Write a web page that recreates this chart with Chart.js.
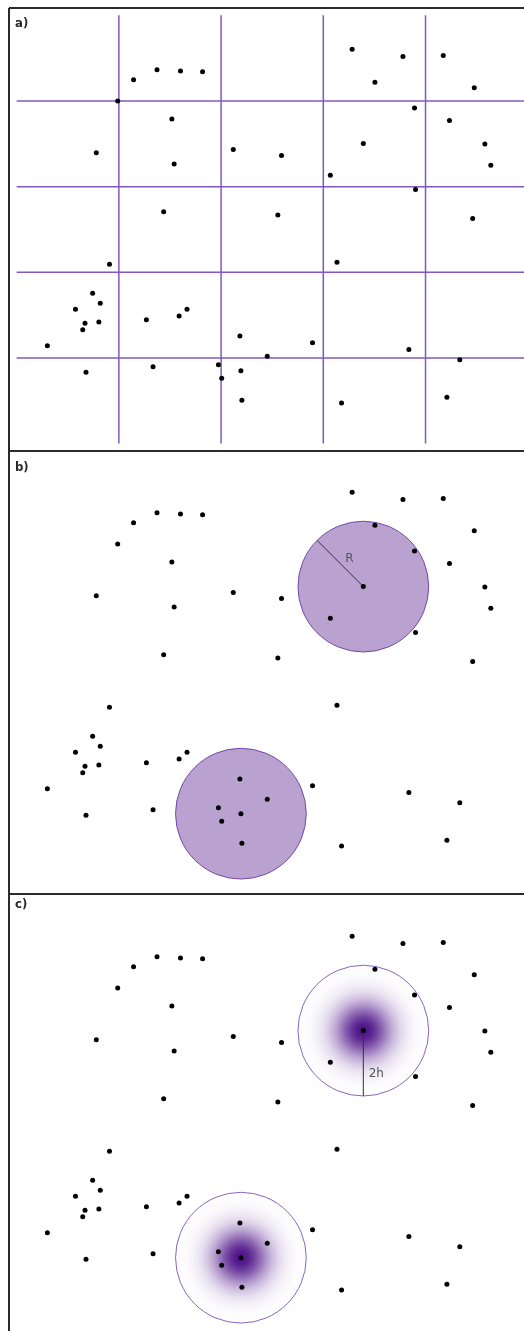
<!DOCTYPE html>
<html><head><meta charset="utf-8">
<script src="https://cdn.jsdelivr.net/npm/chart.js@4/dist/chart.umd.min.js"></script>
<style>
html,body{margin:0;padding:0;background:#fff;width:524px;height:1331px;overflow:hidden;position:relative}
canvas{position:absolute;left:0}
.hl{position:absolute;left:9px;width:515px;height:2px;background:#2b2b2b}
.vl{position:absolute;left:8px;top:8px;width:2px;height:1323px;background:#2b2b2b}
.lbl{position:absolute;left:15px;font:bold 13px/13px 'DejaVu Sans Condensed','DejaVu Sans',sans-serif;color:#2a2a2a}
.ann{position:absolute;font:12px/12px 'DejaVu Sans',sans-serif;color:#555;transform:translate(-50%,-50%);white-space:nowrap}
</style></head>
<body>
<canvas id="pa" width="524" height="451" style="top:0px"></canvas>
<canvas id="pb" width="524" height="451" style="top:443px"></canvas>
<canvas id="pc" width="524" height="451" style="top:887px"></canvas>
<div class="vl"></div>
<div class="hl" style="top:7px"></div>
<div class="hl" style="top:450px"></div>
<div class="hl" style="top:893px"></div>
<div class="lbl" style="top:16px">a)</div>
<div class="lbl" style="top:460px">b)</div>
<div class="lbl" style="top:897px">c)</div>
<div class="ann" id="annR">R</div>
<div class="ann" id="ann2h">2h</div>
<script>
// Event locations (window units, origin at window's top-left)
const pointX = [118.0,141.7,165.4,187.7,102.0,156.7,80.4,159.0,218.7,148.4,
  338.7,390.0,361.7,430.7,462.0,401.7,437.0,267.4,350.0,472.7,
  478.7,316.7,402.7,263.7,460.4,93.7,76.7,84.4,59.4,69.0,
  66.7,83.0,31.0,70.0,131.0,164.0,172.0,137.7,225.4,203.7,
  207.0,226.4,227.4,323.4,298.7,253.0,396.0,447.4,328.0,434.4];
const pointY = [65.0,55.0,56.3,57.0,86.7,104.7,139.0,150.3,135.7,198.7,
  34.3,41.7,67.7,40.7,73.3,93.7,106.3,141.7,129.7,130.0,
  151.7,161.7,176.0,202.0,205.3,251.7,281.0,291.0,297.3,311.3,
  318.0,310.0,334.0,361.0,307.7,304.0,297.3,355.3,324.3,353.3,
  367.0,359.3,389.3,249.7,331.0,344.7,338.0,348.3,392.0,386.3];
// Study window and quadrat breaks
const windowW = 516, windowH = 433;
const quadratXBreaks = [103.2,206.4,309.6,412.8];
const quadratYBreaks = [86.6,173.2,259.8,346.4];
// Search circles / kernel centres
const circleX = [350.0,226.4];
const circleY = [129.7,359.3];
const radius = 66;

function decoPlugin(mode){
  return {
    id:'deco',
    beforeDatasetsDraw(chart){
      const ctx = chart.ctx, xs = chart.scales.x, ys = chart.scales.y;
      ctx.save();
      if(mode==='a'){
        ctx.strokeStyle = '#8257c0'; ctx.lineWidth = 1.5;
        quadratXBreaks.forEach(v=>{
          const p = xs.getPixelForValue(v);
          ctx.beginPath(); ctx.moveTo(p, ys.getPixelForValue(0)); ctx.lineTo(p, ys.getPixelForValue(windowH)); ctx.stroke();
        });
        quadratYBreaks.forEach(v=>{
          const p = ys.getPixelForValue(v);
          ctx.beginPath(); ctx.moveTo(xs.getPixelForValue(0), p); ctx.lineTo(xs.getPixelForValue(windowW), p); ctx.stroke();
        });
      } else {
        const rp = xs.getPixelForValue(radius) - xs.getPixelForValue(0);
        circleX.forEach((cx,i)=>{
          const px = xs.getPixelForValue(cx), py = ys.getPixelForValue(circleY[i]);
          if(mode==='b'){
            ctx.beginPath(); ctx.arc(px,py,rp,0,Math.PI*2);
            ctx.fillStyle = '#b9a2d0'; ctx.fill();
            ctx.strokeStyle = '#7347ab'; ctx.lineWidth = 1; ctx.stroke();
          } else {
            ctx.beginPath(); ctx.arc(px,py,rp,0,Math.PI*2);
            ctx.fillStyle = '#ffffff'; ctx.fill();
            const g = ctx.createRadialGradient(px,py,0,px,py,rp);
            const sigma = 20/rp;
            for(let k=0;k<=20;k++){
              const t = k/20;
              const a = Math.exp(-(t*t)/(2*sigma*sigma));
              g.addColorStop(t, 'rgba(78,18,136,'+a.toFixed(4)+')');
            }
            ctx.fillStyle = g; ctx.fill();
            ctx.strokeStyle = '#8a62c0'; ctx.lineWidth = 1; ctx.stroke();
          }
          if(i===0){
            ctx.strokeStyle = '#333'; ctx.lineWidth = 1;
            ctx.beginPath(); ctx.moveTo(px,py);
            const canvasTop = parseFloat(chart.canvas.style.top);
            if(mode==='b'){
              const d = rp/Math.SQRT2;
              ctx.lineTo(px-d, py-d); ctx.stroke();
              const el = document.getElementById('annR');
              el.style.left = (px-14)+'px'; el.style.top = (canvasTop+py-29)+'px';
            } else {
              ctx.lineTo(px, py+rp); ctx.stroke();
              const el = document.getElementById('ann2h');
              el.style.left = (px+13)+'px'; el.style.top = (canvasTop+py+42)+'px';
            }
          }
        });
      }
      ctx.restore();
    }
  };
}

function makePanel(id, mode){
  new Chart(document.getElementById(id), {
    type:'scatter',
    data:{datasets:[{
      data: pointX.map((x,i)=>({x:x, y:pointY[i]})),
      backgroundColor:'#000', borderColor:'#000', borderWidth:0,
      pointRadius:2.5, pointHoverRadius:2.5
    }]},
    options:{
      responsive:false, animation:false, events:[],
      layout:{padding:0},
      plugins:{legend:{display:false}, tooltip:{enabled:false}},
      scales:{
        x:{type:'linear', display:false, min:-14.3, max:509.7},
        y:{type:'linear', display:false, reverse:true, min:-13, max:438}
      }
    },
    plugins:[decoPlugin(mode)]
  });
}
makePanel('pa','a');
makePanel('pb','b');
makePanel('pc','c');
</script>
</body></html>
